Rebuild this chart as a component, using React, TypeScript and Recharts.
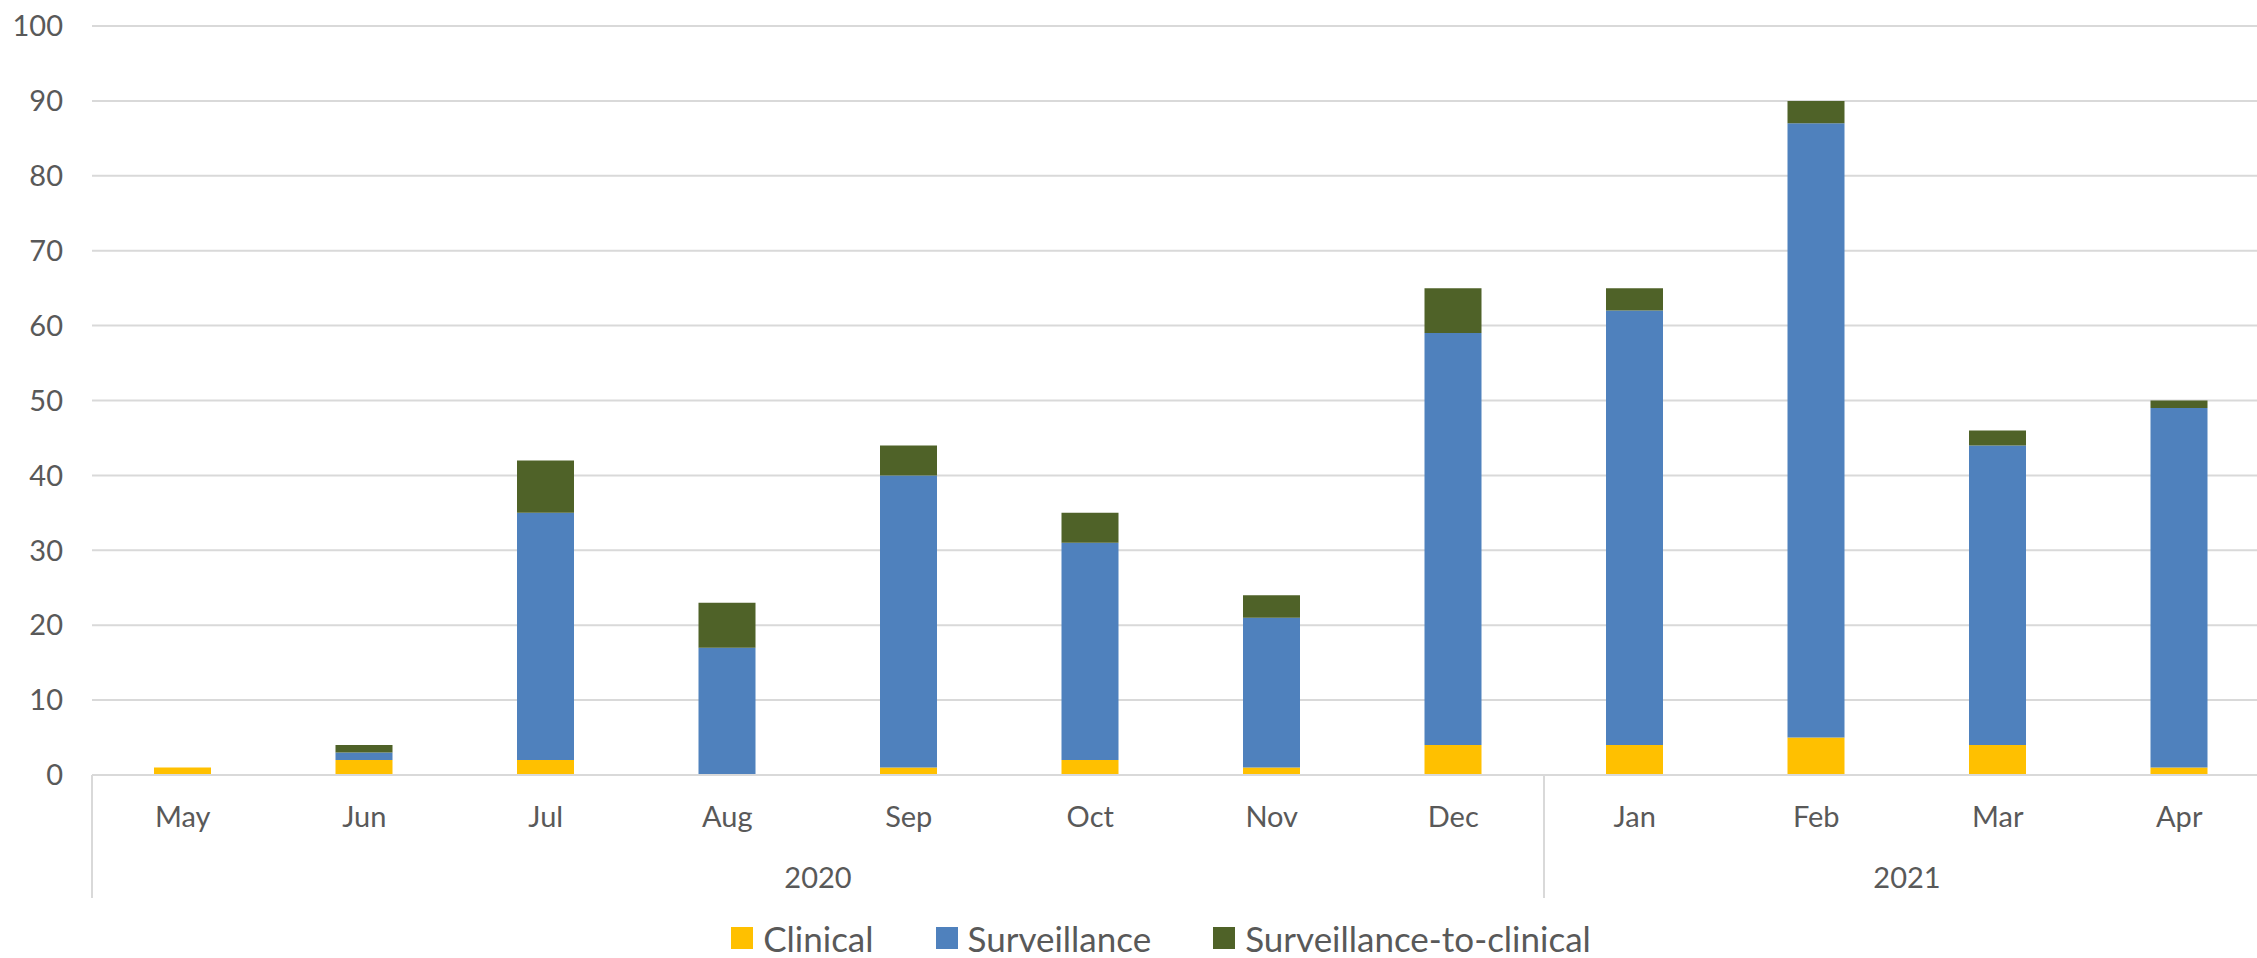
import React from 'react';
import { BarChart, Bar, XAxis, YAxis, CartesianGrid, Legend } from 'recharts';

const months = ['May', 'Jun', 'Jul', 'Aug', 'Sep', 'Oct', 'Nov', 'Dec', 'Jan', 'Feb', 'Mar', 'Apr'];
const years = ['2020', '2020', '2020', '2020', '2020', '2020', '2020', '2020', '2021', '2021', '2021', '2021'];
const clinical = [1, 2, 2, 0, 1, 2, 1, 4, 4, 5, 4, 1];
const surveillance = [0, 1, 33, 17, 39, 29, 20, 55, 58, 82, 40, 48];
const survToClinical = [0, 1, 7, 6, 4, 4, 3, 6, 3, 3, 2, 1];
const yTicks = [0, 10, 20, 30, 40, 50, 60, 70, 80, 90, 100];

const WIDTH = 2257;
const HEIGHT = 958;
const Y_AXIS_W = 92;
// the original plot runs a little past the right edge of the picture
const OVERFLOW_R = 13;
const BAND = (WIDTH + OVERFLOW_R - Y_AXIS_W) / months.length;
const TEXT = '#595959';
const LINE = '#D9D9D9';
const FONT = 'Lato, "Open Sans", sans-serif';

const data = months.map((m, i) => ({
  month: m,
  year: years[i],
  Clinical: clinical[i],
  Surveillance: surveillance[i],
  'Surveillance-to-clinical': survToClinical[i],
}));

// month label, plus the year row and group dividers drawn from the first month of each year
function MonthTick(props: any) {
  const { x, y, payload, index } = props;
  const i = index ?? payload.index;
  const isGroupStart = i === 0 || years[i] !== years[i - 1];
  let count = 0;
  if (isGroupStart) {
    while (i + count < years.length && years[i + count] === years[i]) count++;
  }
  return (
    <g>
      <text x={x} y={y + 52} textAnchor="middle" fill={TEXT} fontSize={29}>
        {payload.value}
      </text>
      {isGroupStart && (
        <>
          <line x1={x - BAND / 2} y1={y} x2={x - BAND / 2} y2={y + 123} stroke={LINE} strokeWidth={2} />
          <text x={x + ((count - 1) * BAND) / 2} y={y + 113} textAnchor="middle" fill={TEXT} fontSize={29}>
            {years[i]}
          </text>
        </>
      )}
    </g>
  );
}

function LegendContent({ payload }: any) {
  return (
    <div
      style={{
        height: 60,
        display: 'flex',
        justifyContent: 'center',
        alignItems: 'flex-start',
        paddingLeft: 52,
        paddingTop: 22,
        boxSizing: 'border-box',
        fontFamily: FONT,
      }}
    >
      {(payload || []).map((entry: any, i: number) => (
        <div key={i} style={{ display: 'flex', alignItems: 'center', height: 36, marginRight: i < payload.length - 1 ? 62 : 0 }}>
          <span style={{ width: 22, height: 22, background: entry.color, display: 'inline-block', marginRight: 10 }} />
          <span style={{ fontSize: 35, color: TEXT, lineHeight: '36px' }}>{entry.value}</span>
        </div>
      ))}
    </div>
  );
}

export default function App() {
  return (
    <div style={{ position: 'absolute', left: 0, top: 0, width: WIDTH, height: HEIGHT, background: '#fff', fontFamily: FONT, overflow: 'hidden' }}>
      <BarChart
        width={WIDTH}
        height={HEIGHT}
        data={data}
        margin={{ top: 26, right: -OVERFLOW_R, left: 0, bottom: 0 }}
        barSize={57}
      >
        <CartesianGrid vertical={false} stroke={LINE} strokeWidth={2} />
        <XAxis
          dataKey="month"
          height={123}
          axisLine={{ stroke: LINE, strokeWidth: 2 }}
          tickLine={false}
          tickSize={0}
          tickMargin={0}
          interval={0}
          tick={<MonthTick />}
        />
        <YAxis
          width={Y_AXIS_W}
          domain={[0, 100]}
          ticks={yTicks}
          axisLine={false}
          tickLine={false}
          tickSize={0}
          tickMargin={29}
          tick={{ fill: TEXT, fontSize: 29 }}
        />
        <Legend verticalAlign="bottom" height={60} content={<LegendContent />} />
        <Bar dataKey="Clinical" stackId="a" fill="#FFC000" isAnimationActive={false} />
        <Bar dataKey="Surveillance" stackId="a" fill="#4F81BD" isAnimationActive={false} />
        <Bar dataKey="Surveillance-to-clinical" stackId="a" fill="#4F6228" isAnimationActive={false} />
      </BarChart>
    </div>
  );
}
